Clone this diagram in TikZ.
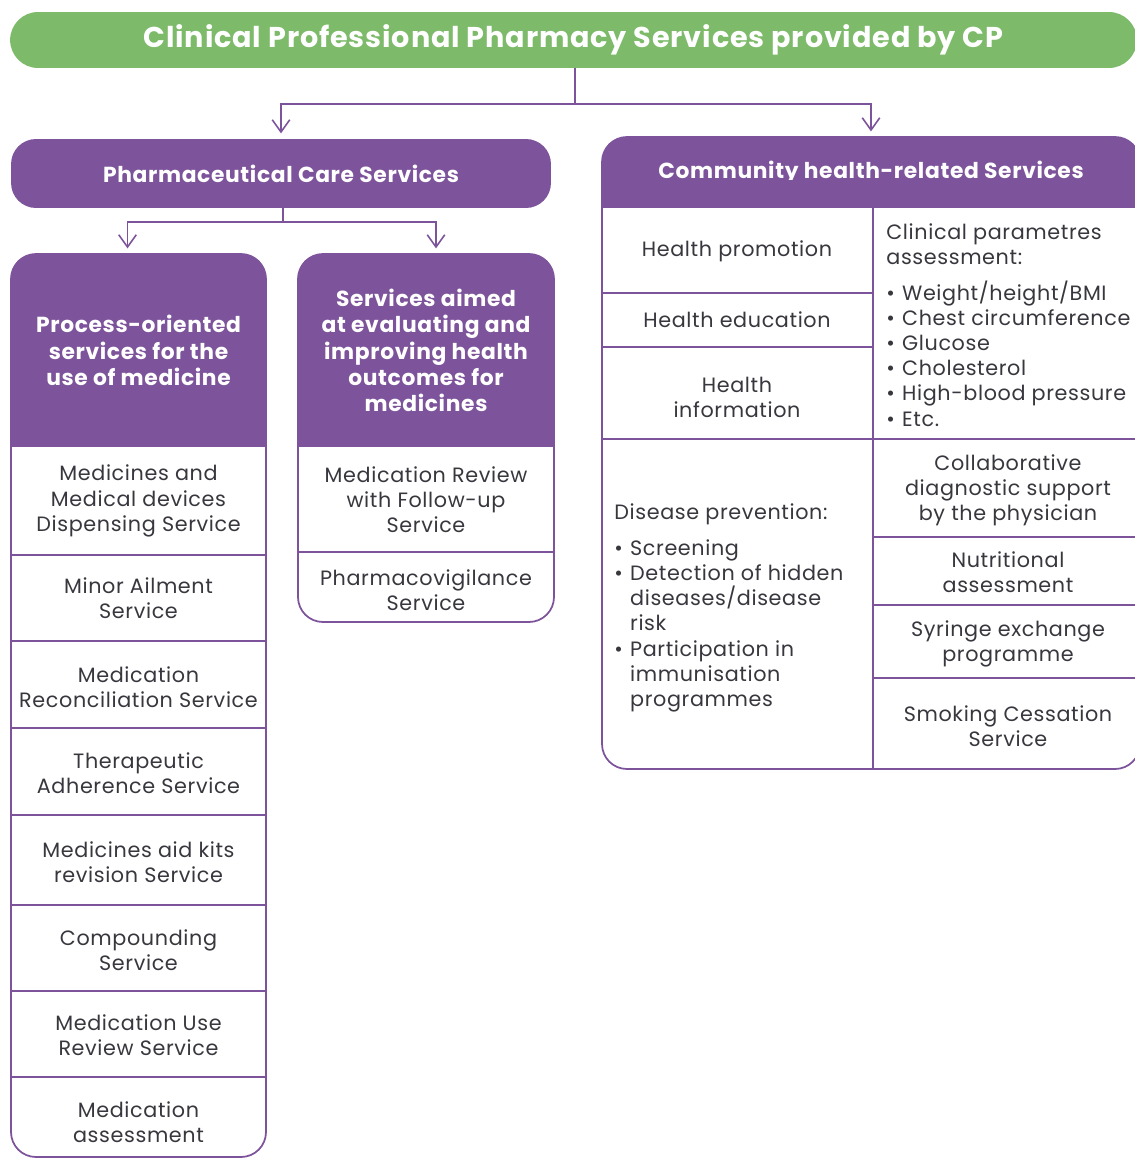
\documentclass[tikz,border=0pt]{standalone}
\usepackage{fontspec}
\setmainfont{Poppins}[LetterSpace=3]
\usetikzlibrary{arrows.meta, calc}

\definecolor{cpgreen}{RGB}{125,187,106}
\definecolor{cppurple}{RGB}{125,84,155}
\definecolor{cptext}{RGB}{55,55,62}

\newcommand{\bul}{\makebox[9pt][l]{•}}
\newcommand{\ind}{\hspace*{9pt}}

\begin{document}
\begin{tikzpicture}[x=0.02cm, y=-0.02cm,
    head/.style={fill=cppurple, text=white, font=\bfseries\fontsize{12.4}{15}\selectfont,
      align=center, rounded corners=0.5cm, inner sep=0pt},
    cell/.style={text=cptext, font=\fontsize{11.8}{14.3}\selectfont, align=center},
    list/.style={cell, align=left, anchor=west, inner sep=0pt},
    frame/.style={draw=cppurple, line width=1pt, rounded corners=0.5cm},
    sep/.style={draw=cppurple, line width=1pt},
    conn/.style={draw=cppurple, line width=0.9pt, -{Straight Barb[length=7pt,width=10pt]}, shorten >=3pt}]
  \useasboundingbox (0,0) rectangle (1135,1159);

  % title
  \node[fill=cpgreen, text=white, font=\bfseries\fontsize{16.3}{19}\selectfont,
    rounded corners=0.56cm, minimum width=22.54cm, minimum height=1.12cm, inner sep=0pt]
    (title) at (573.5,40) {Clinical Professional Pharmacy Services provided by CP};

  % second level
  \node[head, minimum width=10.8cm, minimum height=1.38cm] (pcs) at (281,173.5)
    {Pharmaceutical Care Services};
  \node[head, minimum width=10.76cm, minimum height=1.42cm] (chs) at (871,172.5)
    {Community health-related Services};
  \fill[cppurple] (602,180) rectangle (1140,208);

  % third level headers
  \node[head, minimum width=5.1cm, minimum height=3.86cm] (proch) at (138.5,350.5)
    {Process-oriented\\services for the\\use of medicine};
  \fill[cppurple] (11,420) rectangle (266,447);
  \node[head, minimum width=5.12cm, minimum height=3.86cm] (aimh) at (426,350.5)
    {Services aimed\\at evaluating and\\improving health\\outcomes for\\medicines};
  \fill[cppurple] (298,420) rectangle (554,447);

  % process-oriented services
  \node[cell] (disp) at (138.5,501) {Medicines and\\Medical devices\\Dispensing Service};
  \node[cell] (minor) at (138.5,598.5) {Minor Ailment\\Service};
  \node[cell] (recon) at (138.5,687) {Medication\\Reconciliation Service};
  \node[cell] (adher) at (138.5,773.5) {Therapeutic\\Adherence Service};
  \node[cell] (kits) at (138.5,862) {Medicines aid kits\\revision Service};
  \node[cell] (comp) at (138.5,950.5) {Compounding\\Service};
  \node[cell] (murs) at (138.5,1035.5) {Medication Use\\Review Service};
  \node[cell] (assess) at (138.5,1122) {Medication\\assessment};
  \foreach \y in {555,641,728,815,905,991,1077}
    \draw[sep] (11,\y) -- (266,\y);
  \draw[frame] (11,254) rectangle (266,1157);

  % outcome services
  \node[cell] (review) at (426,500) {Medication Review\\with Follow-up\\Service};
  \node[cell] (vigil) at (426,590.5) {Pharmacovigilance\\Service};
  \draw[sep] (298,552) -- (554,552);
  \draw[frame] (298,254) rectangle (554,622);

  % community health-related services
  \node[cell] (promo) at (737,251) {Health promotion};
  \node[cell] (educ) at (737,320) {Health education};
  \node[cell] (info) at (737,397.5) {Health\\information};
  \node[list] (prev) at (614,608) {Disease prevention:\\[6pt]
    \bul Screening\\
    \bul Detection of hidden\\
    \ind diseases/disease\\
    \ind risk\\
    \bul Participation in\\
    \ind immunisation\\
    \ind programmes};
  \node[list] (param) at (886,325) {Clinical parametres\\assessment:\\[6pt]
    \bul Weight/height/BMI\\
    \bul Chest circumference\\
    \bul Glucose\\
    \bul Cholesterol\\
    \bul High-blood pressure\\
    \bul Etc.};
  \node[cell] (diag) at (1008,490) {Collaborative\\diagnostic support\\by the physician};
  \node[cell] (nutr) at (1008,572) {Nutritional\\assessment};
  \node[cell] (syr) at (1008,643.5) {Syringe exchange\\programme};
  \node[cell] (smok) at (1008,726.5) {Smoking Cessation\\Service};
  \foreach \y in {293,347,439}
    \draw[sep] (602,\y) -- (873,\y);
  \foreach \y in {439,537,605,678}
    \draw[sep] (873,\y) -- (1140,\y);
  \draw[sep] (873,208) -- (873,769);
  \draw[frame] (602,137) rectangle (1140,769);

  % connectors
  \coordinate (fork1) at (575,104);
  \draw[conn] (title.south -| fork1) -- (fork1) -| (pcs.north);
  \draw[conn] (fork1) -| (chs.north);
  \coordinate (fork2) at (283,222);
  \draw[conn] (pcs.south -| fork2) -- (fork2) -| ($(proch.north)+(-11,0)$);
  \draw[conn] (fork2) -| ($(aimh.north)+(10,0)$);
\end{tikzpicture}
\end{document}
